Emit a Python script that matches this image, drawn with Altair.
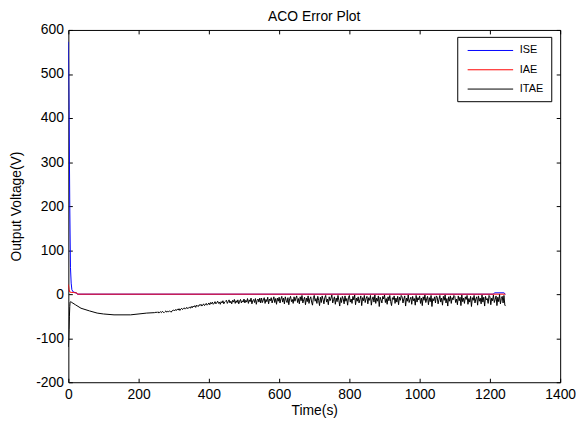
import altair as alt
import pandas as pd

# ---------------- data ----------------
x_ticks = [0, 200, 400, 600, 800, 1000, 1200, 1400]
y_ticks = [-200, -100, 0, 100, 200, 300, 400, 500, 600]
x_domain = [0, 1400]
y_domain = [-200, 600]
series_names = ["ISE", "IAE", "ITAE"]
series_colors = ["#0000ff", "#ff0000", "#000000"]

ise_t = [0, 2, 4, 6, 8, 10, 14, 18, 22, 26, 1210, 1213, 1240, 1244]
ise_v = [573, 420, 200, 60, 25, 10, 5, 4, 3, 0, 0, 3, 3, 0]

iae_t = [0, 2, 4, 8, 14, 20, 24, 26, 1244]
iae_v = [22, 10, 5, 4, 4, 3, 3, 0, 0]

itae_head_t = [0, 1, 2, 3, 4, 5, 7, 10, 20, 36, 60, 82, 100, 130, 177, 223, 245]
itae_head_v = [-120, -105, -80, -50, -28, -18, -17, -19, -24, -32, -38, -43, -45, -47, -47, -43, -42]

# noisy part sampled every 2.5 s from t = 250 to t = 1245
itae_noise_start = 250
itae_noise_step = 2.5
itae_noise_v = [
    -41, -42, -40, -43, -41, -40, -42, -39, -41, -42, -40, -38, -41, -39, -40, -38, -39, -41, -38, -37,
    -36, -38, -35, -37, -34, -36, -33, -37, -34, -32, -35, -33, -31, -34, -32, -30, -33, -31, -29, -32,
    -28, -31, -27, -29, -26, -30, -25, -27, -28, -24, -26, -23, -27, -25, -22, -26, -24, -21, -25, -23,
    -20, -24, -19, -22, -18, -23, -21, -17, -22, -19, -16, -21, -18, -23, -17, -20, -15, -22, -18, -16,
    -14, -21, -17, -13, -20, -16, -22, -14, -18, -12, -21, -15, -19, -13, -22, -16, -12, -20, -15, -18,
    -11, -20, -14, -18, -10, -21, -13, -17, -9, -22, -15, -12, -19, -10, -23, -14, -11, -18, -9, -20,
    -9, -19, -13, -8, -21, -12, -17, -7, -22, -11, -15, -8, -20, -13, -6, -19, -10, -23, -9, -16,
    -7, -20, -11, -5, -18, -9, -22, -6, -14, -19, -8, -24, -10, -5, -17, -12, -21, -6, -16, -9,
    -4, -19, -10, -22, -6, -15, -3, -20, -12, -7, -24, -9, -17, -4, -21, -11, -6, -18, -25, -8,
    -3, -16, -10, -21, -5, -14, -26, -7, -19, -4, -12, -22, -8, -3, -18, -11, -24, -6, -15, -9,
    -2, -20, -12, -6, -23, -9, -17, -3, -14, -27, -8, -19, -5, -11, -22, -4, -16, -10, -25, -7,
    -3, -18, -11, -21, -5, -13, -2, -24, -9, -16, -6, -20, -12, -4, -26, -8, -15, -3, -19, -10,
    -5, -22, -8, -14, -3, -25, -11, -6, -18, -2, -21, -9, -16, -4, -28, -7, -13, -20, -5, -11,
    -2, -19, -10, -23, -6, -15, -3, -17, -26, -8, -12, -4, -21, -9, -18, -5, -24, -7, -14, -3,
    -6, -20, -11, -4, -27, -9, -16, -2, -19, -12, -7, -23, -5, -15, -10, -25, -3, -18, -8, -13,
    -4, -21, -9, -26, -6, -14, -2, -19, -11, -5, -24, -8, -17, -3, -28, -10, -15, -6, -20, -4,
    -7, -22, -12, -3, -18, -9, -25, -5, -14, -2, -20, -10, -27, -6, -16, -4, -21, -8, -13, -3,
    -5, -19, -11, -24, -4, -15, -7, -26, -2, -17, -9, -21, -6, -12, -3, -23, -10, -18, -5, -28,
    -8, -14, -3, -20, -11, -6, -25, -4, -16, -9, -22, -2, -18, -7, -27, -5, -13, -10, -21, -3,
    -6, -24, -9, -15, -2, -19, -12, -4, -26, -7, -17, -1, -22, -10, -5, -20, -3, -25, -27,
]
itae_noise_t = [itae_noise_start + i * itae_noise_step for i in range(len(itae_noise_v))]

# ---------------- build tables ----------------
ise_df = pd.DataFrame({"t": ise_t, "v": ise_v, "series": "ISE"})
iae_df = pd.DataFrame({"t": iae_t, "v": iae_v, "series": "IAE"})
itae_df = pd.DataFrame({"t": itae_head_t + itae_noise_t,
                        "v": itae_head_v + itae_noise_v, "series": "ITAE"})
frame_df = pd.DataFrame({"t": x_domain, "v": y_domain})

FONT = "Liberation Sans"
W, H = 497, 356

x_scale = alt.Scale(domain=x_domain, nice=False, zero=False)
y_scale = alt.Scale(domain=y_domain, nice=False, zero=False)

main_x_axis = alt.Axis(
    values=x_ticks, ticks=False, domain=False, grid=False, labelFlush=False,
    labelOverlap=False, labelExpr="'' + datum.value", labelFont=FONT,
    labelFontSize=14, labelColor="black", labelPadding=5,
    title="Time(s)", titleFont=FONT, titleFontSize=14,
    titleFontWeight="normal", titleColor="black", titleY=33,
    titleBaseline="alphabetic",
)
main_y_axis = alt.Axis(
    values=y_ticks, ticks=False, domain=False, grid=False, labelFlush=False,
    labelOverlap=False, labelExpr="'' + datum.value", labelFont=FONT,
    labelFontSize=14, labelColor="black", labelPadding=5,
    title="Output Voltage(V)", titleFont=FONT, titleFontSize=14,
    titleFontWeight="normal", titleColor="black", titleX=-45,
)

color_enc = alt.Color(
    "series:N",
    scale=alt.Scale(domain=series_names, range=series_colors),
    legend=alt.Legend(
        title=None, orient="none", legendX=393, legendY=7,
        symbolType="M-1,0H7", symbolSize=132, symbolStrokeWidth=1,
        symbolOffset=2.5, labelOffset=40.5, labelFont=FONT, labelFontSize=11,
        labelColor="black", padding=7.25, rowPadding=7.5,
        strokeColor="black", fillColor="white", cornerRadius=0,
    ),
)


def line(df, width):
    return alt.Chart(df).mark_line(strokeWidth=width, clip=True).encode(
        x=alt.X("t:Q", scale=x_scale, axis=main_x_axis),
        y=alt.Y("v:Q", scale=y_scale, axis=main_y_axis),
        color=color_enc,
    )


lines = alt.layer(line(ise_df, 1), line(iae_df, 1), line(itae_df, 1))


def tick_axis(orient, offset, values):
    return alt.Axis(
        orient=orient, offset=offset, values=values, labels=False, domain=False,
        grid=False, ticks=True, tickSize=4, tickColor="black", tickWidth=1,
        title=None,
    )


ticks_a = alt.Chart(frame_df).mark_point(opacity=0).encode(
    x=alt.X("t:Q", scale=x_scale, axis=tick_axis("top", -H, x_ticks)),
    y=alt.Y("v:Q", scale=y_scale, axis=tick_axis("right", -W, y_ticks)),
)
ticks_b = alt.Chart(frame_df).mark_point(opacity=0).encode(
    x=alt.X("t:Q", scale=x_scale, axis=tick_axis("bottom", -H, x_ticks)),
    y=alt.Y("v:Q", scale=y_scale, axis=tick_axis("left", -W, y_ticks)),
)

chart = (
    alt.layer(lines, ticks_a, ticks_b)
    .resolve_scale(x="independent", y="independent")
    .properties(
        width=W, height=H,
        title=alt.TitleParams("ACO Error Plot", font=FONT, fontSize=14,
                              fontWeight="normal", color="black", offset=-1,
                              anchor="middle"),
        autosize=alt.AutoSizeParams(type="none"),
        padding={"left": 61, "top": 20, "right": 16, "bottom": 37},
        background="white",
    )
    .configure_view(stroke="black", strokeWidth=1)
)

chart.save("out.html", embed_options={"renderer": "svg", "actions": False})
